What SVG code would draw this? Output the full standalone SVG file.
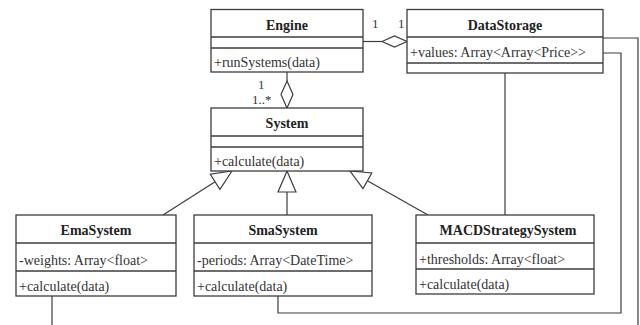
<svg xmlns="http://www.w3.org/2000/svg" width="640" height="325" viewBox="0 0 640 325">
  <style>
    .box { fill: #ffffff; stroke: #3c3c3c; stroke-width: 1.3; }
    .sep { stroke: #3c3c3c; stroke-width: 1.3; }
    .name { font-family: "Liberation Serif", "Times New Roman", serif; font-size: 14px; font-weight: bold; fill: #222; text-anchor: middle; }
    .member { font-family: "Liberation Serif", "Times New Roman", serif; font-size: 14px; fill: #333; }
    .mult { font-family: "Liberation Serif", "Times New Roman", serif; font-size: 13px; fill: #333; }
    .wire { fill: none; stroke: #3c3c3c; stroke-width: 1.2; }
    .head { fill: #ffffff; stroke: #3c3c3c; stroke-width: 1.2; stroke-linejoin: miter; }
  </style>

  <!-- connectors -->
  <g id="connectors">
    <!-- Engine <>- DataStorage aggregation -->
    <line class="wire" x1="363" y1="41.5" x2="382" y2="41.5"/>
    <polygon class="head" points="382,41.5 394.5,36 407,41.5 394.5,47"/>
    <text class="mult" x="372" y="28">1</text>
    <text class="mult" x="398" y="28">1</text>

    <!-- Engine -> System aggregation -->
    <line class="wire" x1="287" y1="72" x2="287" y2="81"/>
    <polygon class="head" points="287,81 293,94.5 287,108 281,94.5"/>
    <text class="mult" x="258" y="89">1</text>
    <text class="mult" x="252" y="104">1..*</text>

    <!-- generalizations to System -->
    <line class="wire" x1="163" y1="215" x2="215.1" y2="181.8"/>
    <polygon class="head" points="232,171 219.9,189.4 210.3,174.2"/>

    <line class="wire" x1="287" y1="192" x2="287" y2="215"/>
    <polygon class="head" points="287,171 296,192 278,192"/>

    <line class="wire" x1="428" y1="215" x2="367.4" y2="180.8"/>
    <polygon class="head" points="350,171 371.8,173 363,188.6"/>

    <!-- DataStorage associations -->
    <line class="wire" x1="505" y1="73" x2="505" y2="215"/>
    <polyline class="wire" points="603,53 621,53 621,313 278,313 278,296"/>
    <polyline class="wire" points="603,38 638,38 638,326"/>
    <line class="wire" x1="52" y1="296" x2="52" y2="326"/>
  </g>

  <!-- Engine -->
  <g id="engine">
    <rect class="box" x="211" y="9.5" width="152" height="62.5"/>
    <line class="sep" x1="211" y1="37" x2="363" y2="37"/>
    <line class="sep" x1="211" y1="48" x2="363" y2="48"/>
    <text class="name" x="287" y="29.5">Engine</text>
    <text class="member" x="214" y="67">+runSystems(data)</text>
  </g>

  <!-- DataStorage -->
  <g id="datastorage">
    <rect class="box" x="407" y="9.5" width="196" height="63.5"/>
    <line class="sep" x1="407" y1="37" x2="603" y2="37"/>
    <line class="sep" x1="407" y1="63" x2="603" y2="63"/>
    <text class="name" x="505" y="29.5">DataStorage</text>
    <text class="member" x="410" y="57">+values: Array&lt;Array&lt;Price&gt;&gt;</text>
  </g>

  <!-- System -->
  <g id="system">
    <rect class="box" x="211" y="108" width="152" height="63"/>
    <line class="sep" x1="211" y1="136" x2="363" y2="136"/>
    <line class="sep" x1="211" y1="147" x2="363" y2="147"/>
    <text class="name" x="287" y="128">System</text>
    <text class="member" x="214" y="166">+calculate(data)</text>
  </g>

  <!-- EmaSystem -->
  <g id="emasystem">
    <rect class="box" x="16" y="215" width="160" height="81"/>
    <line class="sep" x1="16" y1="243" x2="176" y2="243"/>
    <line class="sep" x1="16" y1="271" x2="176" y2="271"/>
    <text class="name" x="96" y="235">EmaSystem</text>
    <text class="member" x="19" y="265">-weights: Array&lt;float&gt;</text>
    <text class="member" x="19" y="291">+calculate(data)</text>
  </g>

  <!-- SmaSystem -->
  <g id="smasystem">
    <rect class="box" x="194" y="215" width="178" height="81"/>
    <line class="sep" x1="194" y1="243" x2="372" y2="243"/>
    <line class="sep" x1="194" y1="271" x2="372" y2="271"/>
    <text class="name" x="283" y="235">SmaSystem</text>
    <text class="member" x="197" y="265">-periods: Array&lt;DateTime&gt;</text>
    <text class="member" x="197" y="291">+calculate(data)</text>
  </g>

  <!-- MACDStrategySystem -->
  <g id="macdstrategysystem">
    <rect class="box" x="416" y="215" width="178" height="79"/>
    <line class="sep" x1="416" y1="243" x2="594" y2="243"/>
    <line class="sep" x1="416" y1="269" x2="594" y2="269"/>
    <text class="name" x="508" y="235">MACDStrategySystem</text>
    <text class="member" x="419" y="264">+thresholds: Array&lt;float&gt;</text>
    <text class="member" x="419" y="289">+calculate(data)</text>
  </g>
</svg>
